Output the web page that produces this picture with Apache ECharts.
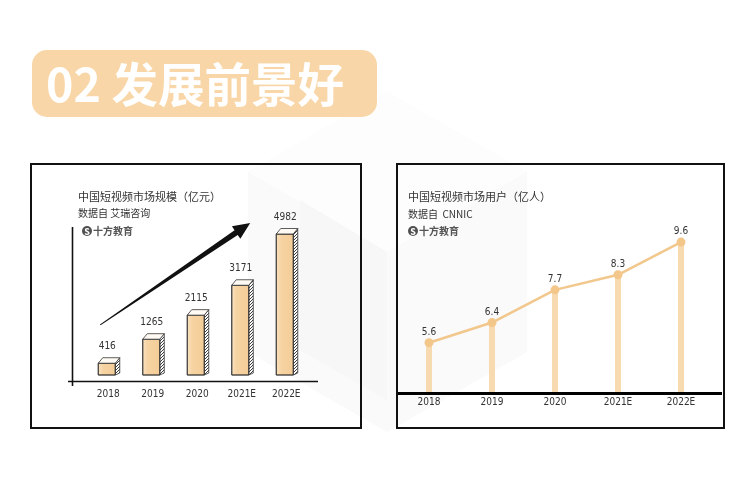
<!DOCTYPE html>
<html>
<head>
<meta charset="utf-8">
<script src="https://cdn.jsdelivr.net/npm/echarts@6/dist/echarts.min.js"></script>
<style>
html,body{margin:0;padding:0;background:#fff;}
#main{width:750px;height:477px;}
</style>
</head>
<body>
<div id="main"></div>
<script>
// ---- data ----
const categories = ['2018', '2019', '2020', '2021E', '2022E'];
const marketSize = [416, 1265, 2115, 3171, 4982];      // 亿元
const users = [5.6, 6.4, 7.7, 8.3, 9.6];               // 亿人
const pageTitle = '02 发展前景好';
const leftTitle = '中国短视频市场规模（亿元）';
const leftSource = '数据自 艾瑞咨询';
const rightTitle = '中国短视频市场用户（亿人）';
const rightSource = '数据自  CNNIC';
const brand = '十方教育';

const CJK = "'Noto Sans CJK SC', 'Noto Sans', sans-serif";
const NARROW = "'Liberation Sans Narrow', 'DejaVu Sans Condensed', 'Noto Sans CJK SC', sans-serif";

// hatch pattern for the bar sides
const hatch = document.createElement('canvas');
hatch.width = 3; hatch.height = 3;
(function () {
  const c = hatch.getContext('2d');
  c.fillStyle = '#ffffff'; c.fillRect(0, 0, 3, 3);
  c.strokeStyle = '#2a2a2a'; c.lineWidth = 0.9;
  c.beginPath();
  c.moveTo(-1, 4); c.lineTo(4, -1);
  c.moveTo(-1, 1); c.lineTo(1, -1);
  c.moveTo(2, 4); c.lineTo(4, 2);
  c.stroke();
})();
const hatchPattern = { image: hatch, repeat: 'repeat' };

function renderBar(params, api) {
  const idx = api.value(0);
  const v = api.value(1);
  const top = api.coord([idx, v]);
  const base = api.coord([idx, 0]);
  const cx = top[0];
  const fl = cx - 10, fw = 17, sw = 4.5, d = 5.5;
  const t = top[1], b = base[1];
  return {
    type: 'group',
    children: [
      { type: 'polygon', shape: { points: [[fl + fw, t], [fl + fw + sw, t - d], [fl + fw + sw, b - 2], [fl + fw, b]] },
        style: { fill: hatchPattern, stroke: '#333', lineWidth: 0.8 } },
      { type: 'rect', shape: { x: fl, y: t, width: fw, height: b - t },
        style: { fill: new echarts.graphic.LinearGradient(0, 0, 1, 0, [
          { offset: 0, color: '#fbe3c2' }, { offset: 0.3, color: '#f6d3a2' }, { offset: 1, color: '#f4cd97' }]),
          stroke: '#333', lineWidth: 0.8 } },
      { type: 'polygon', shape: { points: [[fl, t], [fl + sw, t - d], [fl + fw + sw, t - d], [fl + fw, t]] },
        style: { fill: '#fffaf3', stroke: '#333', lineWidth: 0.8 } },
      { type: 'text', style: { text: String(v), x: cx - 1, y: t - 17, align: 'center', verticalAlign: 'middle',
        fontSize: 10, fill: '#333', fontFamily: NARROW } }
    ]
  };
}

const chart = echarts.init(document.getElementById('main'), null, { renderer: 'canvas' });

const option = {
  backgroundColor: '#ffffff',
  animation: false,
  grid: [
    { left: 86, width: 222.5, top: 225, height: 150 },
    { left: 397.5, width: 315, top: 232, height: 161 }
  ],
  xAxis: [
    { type: 'category', gridIndex: 0, data: categories, boundaryGap: true,
      axisLine: { show: false }, axisTick: { show: false },
      axisLabel: { color: '#333', fontSize: 10, fontFamily: NARROW, margin: 14 } },
    { type: 'category', gridIndex: 1, data: categories, boundaryGap: true,
      axisLine: { show: false }, axisTick: { show: false },
      axisLabel: { color: '#333', fontSize: 10, fontFamily: NARROW, margin: 4 } }
  ],
  yAxis: [
    { type: 'value', gridIndex: 0, min: 0, max: 5300, show: false, splitLine: { show: false } },
    { type: 'value', gridIndex: 1, min: 3.6, max: 10, show: false, splitLine: { show: false } }
  ],
  series: [
    { type: 'custom', xAxisIndex: 0, yAxisIndex: 0,
      data: categories.map((c, i) => [i, marketSize[i]]),
      encode: { x: 0, y: 1 }, renderItem: renderBar, z: 5 },
    { type: 'bar', xAxisIndex: 1, yAxisIndex: 1, data: users, barWidth: 6,
      itemStyle: { color: '#f8dab0' }, z: 3, silent: true },
    { type: 'line', xAxisIndex: 1, yAxisIndex: 1, data: users,
      symbol: 'circle', symbolSize: 9,
      lineStyle: { color: '#f2c78c', width: 2.5 },
      itemStyle: { color: '#f3c68a' },
      label: { show: true, position: 'top', distance: 1, color: '#333', fontSize: 10, fontFamily: NARROW },
      z: 4 }
  ]
};
chart.setOption(option);

// ---- decorations derived from the axes ----
const p0 = chart.convertToPixel({ xAxisIndex: 0, yAxisIndex: 0 }, [0, 0]);
const p1 = chart.convertToPixel({ xAxisIndex: 0, yAxisIndex: 0 }, [1, 0]);
const pv = chart.convertToPixel({ xAxisIndex: 0, yAxisIndex: 0 }, [0, 1000]);
function px(cat, val) {
  return [p0[0] + cat * (p1[0] - p0[0]), p0[1] + (val / 1000) * (pv[1] - p0[1])];
}
// arrow
const aS = px(-0.18, 1770), aE = px(3.19, 5370);
const dx = aE[0] - aS[0], dy = aE[1] - aS[1];
const L = Math.hypot(dx, dy);
const ux = dx / L, uy = dy / L, nx = -uy, ny = ux;
const headL = 17, headW = 7.5, w0 = 0.5, w1 = 2.8;
const hb = [aE[0] - ux * headL, aE[1] - uy * headL];
const arrowPts = [
  [aS[0] + nx * w0, aS[1] + ny * w0],
  [hb[0] + nx * w1, hb[1] + ny * w1],
  [hb[0] + nx * headW, hb[1] + ny * headW],
  aE,
  [hb[0] - nx * headW, hb[1] - ny * headW],
  [hb[0] - nx * w1, hb[1] - ny * w1],
  [aS[0] - nx * w0, aS[1] - ny * w0]
];

function logo(x, y) {
  return [
    { type: 'circle', shape: { cx: x + 5, cy: y, r: 5 }, style: { fill: '#505050' }, z: 20 },
    { type: 'text', style: { text: 'S', x: x + 5, y: y + 0.5, align: 'center', verticalAlign: 'middle',
      fontSize: 9, fontWeight: 'bold', fill: '#fff', fontFamily: CJK }, z: 21 },
    { type: 'text', style: { text: brand, x: x + 11, y: y, verticalAlign: 'middle',
      fontSize: 10, fontWeight: 'bold', fill: '#555', fontFamily: CJK }, z: 20 }
  ];
}

const graphics = [
  // watermark (very faint)
  { type: 'polygon', shape: { points: [[387, 92], [527, 172], [527, 352], [387, 432], [248, 352], [248, 172]] },
    style: { fill: '#fafafa' }, z: 0, silent: true },
  { type: 'polygon', shape: { points: [[387, 92], [527, 172], [387, 252], [248, 172]] },
    style: { fill: '#fdfdfd' }, z: 0, silent: true },
  { type: 'polygon', shape: { points: [[300, 200], [387, 252], [387, 400], [300, 350]] },
    style: { fill: '#f7f7f7' }, z: 0, silent: true },
  // title pill
  { type: 'rect', shape: { x: 32, y: 50, width: 345, height: 67, r: 15 }, style: { fill: '#f9d6a7' }, z: 10 },
  { type: 'text', style: { text: pageTitle, x: 46, y: 84, verticalAlign: 'middle', fontSize: 46.5, fontWeight: 'bold',
    fill: '#ffffff', fontFamily: CJK }, z: 11 },
  // panels
  { type: 'rect', shape: { x: 31, y: 164, width: 330, height: 264 }, style: { fill: 'none', stroke: '#111', lineWidth: 2 }, z: 10 },
  { type: 'rect', shape: { x: 397, y: 164, width: 327, height: 264 }, style: { fill: 'none', stroke: '#111', lineWidth: 2 }, z: 10 },
  // left titles
  { type: 'text', style: { text: leftTitle, x: 78, y: 197, verticalAlign: 'middle', fontSize: 11, fill: '#333', fontFamily: CJK }, z: 10 },
  { type: 'text', style: { text: leftSource, x: 78, y: 213, verticalAlign: 'middle', fontSize: 10, fill: '#333', fontFamily: CJK }, z: 10 },
  // right titles
  { type: 'text', style: { text: rightTitle, x: 408, y: 197, verticalAlign: 'middle', fontSize: 11, fill: '#333', fontFamily: CJK }, z: 10 },
  { type: 'text', style: { text: rightSource, x: 408, y: 214, verticalAlign: 'middle', fontSize: 10, fill: '#333', fontFamily: CJK }, z: 10 },
  // left axes
  { type: 'line', shape: { x1: 72.5, y1: 227, x2: 72.5, y2: 386 }, style: { stroke: '#111', lineWidth: 1.6 }, z: 10 },
  { type: 'line', shape: { x1: 68, y1: 381.5, x2: 318, y2: 381.5 }, style: { stroke: '#111', lineWidth: 1.6 }, z: 10 },
  // right axis
  { type: 'line', shape: { x1: 398, y1: 393.5, x2: 722, y2: 393.5 }, style: { stroke: '#000', lineWidth: 3 }, z: 10 },
  // arrow
  { type: 'polygon', shape: { points: arrowPts }, style: { fill: '#111' }, z: 12 }
].concat(logo(82, 231), logo(408, 231));

chart.setOption({ graphic: { elements: graphics } });
</script>
</body>
</html>
